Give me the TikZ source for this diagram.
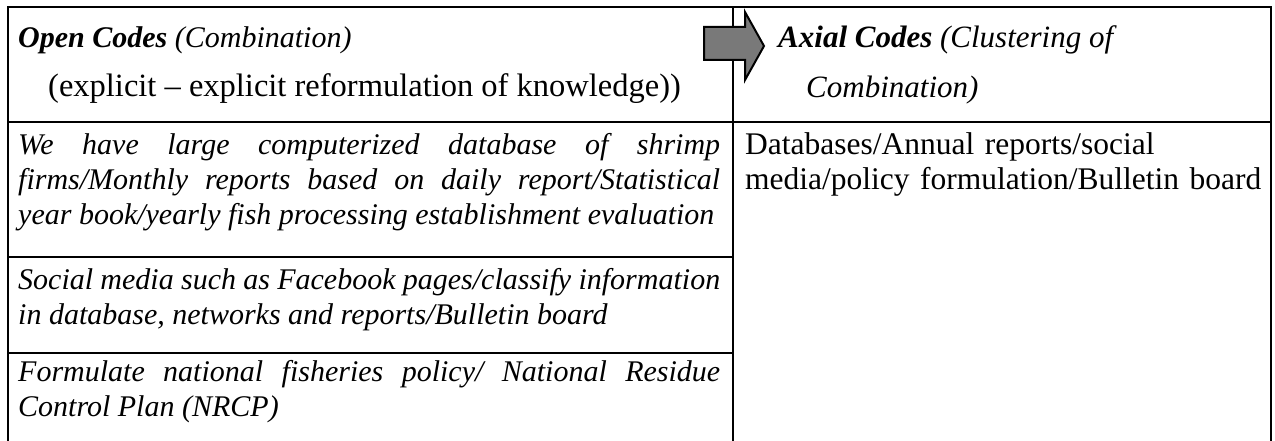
\documentclass[tikz,border=0pt]{standalone}
\usepackage{fontspec}
\setmainfont{Liberation Serif}
\begin{document}
\begin{tikzpicture}[x=1pt,y=-1pt,
  rule/.style={line width=2.2pt,line cap=rect},
  blockarrow/.style={draw=black,line width=2pt,fill=gray!95!black,line join=miter},
  headit/.style={anchor=base west,inner sep=0pt,font=\fontsize{30}{36}\selectfont\itshape},
  headrm/.style={anchor=base west,inner sep=0pt,font=\fontsize{32.5}{36}\selectfont},
  cell/.style={anchor=base west,inner sep=0pt,text width=702pt,align=justify,
    font=\fontsize{30}{35}\selectfont\itshape},
  axial/.style={anchor=base west,inner sep=0pt,text width=524pt,align=left,
    font=\fontsize{31.5}{35}\selectfont}]
\useasboundingbox (0,0) rectangle (1275,441);

% table rules
\draw[rule] (8,441) -- (8,7) -- (1271,7) -- (1271,441);
\draw[rule] (733,7) -- (733,441);
\draw[rule] (8,122) -- (1271,122);
\draw[rule] (8,257) -- (733,257);
\draw[rule] (8,353) -- (733,353);

% header, left column
\node[headit] (open) at (18,48) {\bfseries Open Codes\mdseries{} (Combination)};
\node[headrm] (openNote) at (48,97) {(explicit – explicit reformulation of knowledge))};

% block arrow across the column divider
\filldraw[blockarrow] (704,27) -- (745,27) -- (745,12) -- (764,46)
  -- (745,80) -- (745,60) -- (704,60) -- cycle;

% header, right column
\node[headit,font=\fontsize{31}{36}\selectfont\itshape] (axial) at (778,48)
  {\bfseries Axial Codes\mdseries{} (Clustering of};
\node[headit,font=\fontsize{31}{36}\selectfont\itshape] (axialB) at (806,98) {Combination)};

% open codes
\node[cell] (rowA) at (18,155) {\hyphenpenalty=10000
  We have large computerized database of shrimp\linebreak
  firms/Monthly reports based on daily report/Statistical\linebreak
  year book/yearly fish processing establishment evaluation};
\node[cell] (rowB) at (18,289) {\hyphenpenalty=10000
  Social media such as Facebook pages/classify information\linebreak
  in database, networks and reports/Bulletin board};
\node[cell] (rowC) at (18,381) {\hyphenpenalty=10000
  Formulate national fisheries policy/ National Residue\linebreak
  Control Plan (NRCP)};

% axial code
\node[axial] (axialCode) at (745,155) {Databases/Annual reports/social\\
  media/policy formulation/Bulletin board};
\end{tikzpicture}
\end{document}
